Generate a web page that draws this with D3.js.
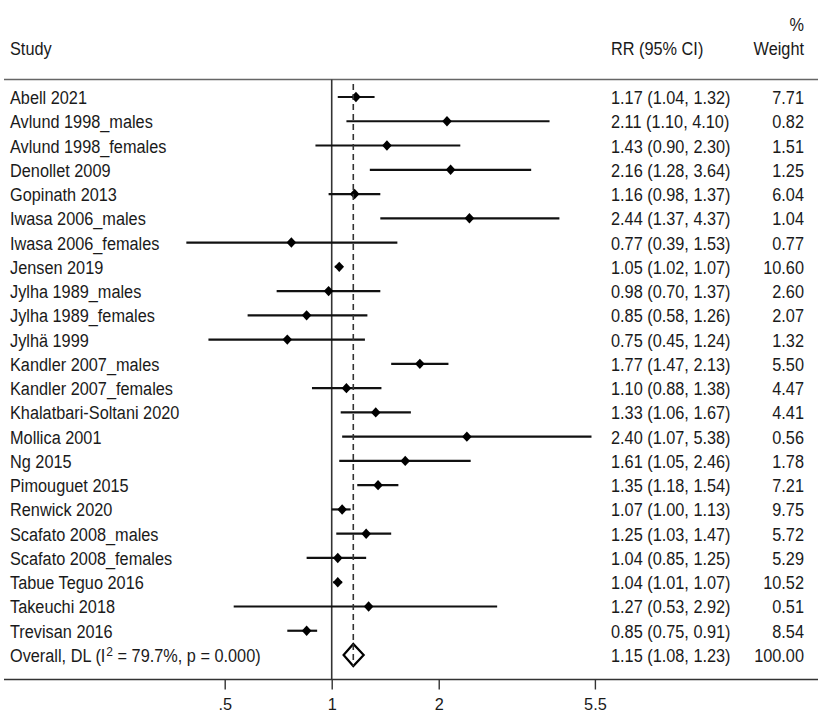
<!DOCTYPE html>
<html>
<head>
<meta charset="utf-8">
<script src="https://cdn.jsdelivr.net/npm/d3@7"></script>
<style>
  body { margin: 0; background: #fff; }
  text { font-family: "Liberation Sans", Arial, sans-serif; font-size: 16.3px; fill: #1a1a1a; }
</style>
</head>
<body>
<svg id="forest"></svg>
<script>
// study labels, point estimates, confidence bounds and weights
let studies = [
    "Abell 2021", "Avlund 1998_males", "Avlund 1998_females", "Denollet 2009",
    "Gopinath 2013", "Iwasa 2006_males", "Iwasa 2006_females", "Jensen 2019",
    "Jylha 1989_males", "Jylha 1989_females", "Jylhä 1999", "Kandler 2007_males",
    "Kandler 2007_females", "Khalatbari-Soltani 2020", "Mollica 2001", "Ng 2015",
    "Pimouguet 2015", "Renwick 2020", "Scafato 2008_males", "Scafato 2008_females",
    "Tabue Teguo 2016", "Takeuchi 2018", "Trevisan 2016"
];
let rr    = [1.17, 2.11, 1.43, 2.16, 1.16, 2.44, 0.77, 1.05, 0.98, 0.85, 0.75, 1.77,
             1.10, 1.33, 2.40, 1.61, 1.35, 1.07, 1.25, 1.04, 1.04, 1.27, 0.85];
let lower = [1.04, 1.10, 0.90, 1.28, 0.98, 1.37, 0.39, 1.02, 0.70, 0.58, 0.45, 1.47,
             0.88, 1.06, 1.07, 1.05, 1.18, 1.00, 1.03, 0.85, 1.01, 0.53, 0.75];
let upper = [1.32, 4.10, 2.30, 3.64, 1.37, 4.37, 1.53, 1.07, 1.37, 1.26, 1.24, 2.13,
             1.38, 1.67, 5.38, 2.46, 1.54, 1.13, 1.47, 1.25, 1.07, 2.92, 0.91];
let weights = [7.71, 0.82, 1.51, 1.25, 6.04, 1.04, 0.77, 10.60, 2.60, 2.07, 1.32, 5.50,
               4.47, 4.41, 0.56, 1.78, 7.21, 9.75, 5.72, 5.29, 10.52, 0.51, 8.54];
let overall = { label: "Overall", rr: 1.15, lower: 1.08, upper: 1.23, weight: 100.00, i2: 79.7, p: "0.000" };
let xTicks = [0.5, 1, 2, 5.5];
let xTickLabels = [".5", "1", "2", "5.5"];

let width = 825;
let height = 725;
let svg = d3.select("#forest").attr("width", width).attr("height", height);

let rows = studies.map((s, i) => ({ study: s, rr: rr[i], lower: lower[i], upper: upper[i], weight: weights[i] }));

let xScale = d3.scaleLog()
    .domain([0.5, 5.5])
    .range([224.7, 594.9]);
let yScale = d3.scalePoint()
    .domain(studies.concat([overall.label]))
    .range([97, 655]);

let fmt = d3.format(".2f");
let colRR = 611;
let colW = 804;
let axisY = 679.5;

// the Stata export has slightly tall glyphs, stretch text around its baseline
function stretch(sel) {
    sel.attr("transform", function () {
        let y = +d3.select(this).attr("y");
        return `translate(0,${y}) scale(1,1.08) translate(0,${-y})`;
    });
}

// header
svg.append("text").attr("x", 10).attr("y", 55).text("Study").call(stretch);
svg.append("text").attr("x", colRR).attr("y", 55).text("RR (95% CI)").call(stretch);
svg.append("text").attr("x", colW).attr("y", 31).attr("text-anchor", "end").text("%").call(stretch);
svg.append("text").attr("x", colW).attr("y", 55).attr("text-anchor", "end").text("Weight").call(stretch);
svg.append("line")
    .attr("x1", 4).attr("x2", 818).attr("y1", 79.5).attr("y2", 79.5)
    .attr("stroke", "#666").attr("stroke-width", 1.4);

// line of no effect
svg.append("line")
    .attr("x1", xScale(1)).attr("x2", xScale(1))
    .attr("y1", 79.5).attr("y2", axisY)
    .attr("stroke", "#333").attr("stroke-width", 1.6);

// study rows
let g = svg.append("g");
g.selectAll(".ci").data(rows).enter().append("line")
    .attr("x1", d => xScale(d.lower))
    .attr("x2", d => xScale(d.upper))
    .attr("y1", d => yScale(d.study))
    .attr("y2", d => yScale(d.study))
    .attr("stroke", "#111").attr("stroke-width", 2.2);
g.selectAll(".pt").data(rows).enter().append("path")
    .attr("d", d => {
        let cx = xScale(d.rr), cy = yScale(d.study);
        return `M${cx - 4.8},${cy}L${cx},${cy - 5.2}L${cx + 4.8},${cy}L${cx},${cy + 5.2}Z`;
    })
    .attr("fill", "#000");
g.selectAll(".lab").data(rows).enter().append("text")
    .attr("x", 10).attr("y", d => yScale(d.study) + 7)
    .text(d => d.study)
    .call(stretch);
g.selectAll(".est").data(rows).enter().append("text")
    .attr("x", colRR).attr("y", d => yScale(d.study) + 7)
    .text(d => `${fmt(d.rr)} (${fmt(d.lower)}, ${fmt(d.upper)})`)
    .call(stretch);
g.selectAll(".wt").data(rows).enter().append("text")
    .attr("x", colW).attr("y", d => yScale(d.study) + 7)
    .attr("text-anchor", "end")
    .text(d => fmt(d.weight))
    .call(stretch);

// overall row
let oy = yScale(overall.label);
let ox = xScale(overall.rr);
let ot = svg.append("text").attr("x", 10).attr("y", oy + 7);
ot.append("tspan").text("Overall, DL (I");
ot.append("tspan").attr("dx", 1).attr("dy", -6).style("font-size", "12px").text("2");
ot.append("tspan").attr("dy", 6).text(` = ${overall.i2}%, p = ${overall.p})`);
ot.call(stretch);
svg.append("text").attr("x", colRR).attr("y", oy + 7)
    .text(`${fmt(overall.rr)} (${fmt(overall.lower)}, ${fmt(overall.upper)})`)
    .call(stretch);
svg.append("text").attr("x", colW).attr("y", oy + 7).attr("text-anchor", "end")
    .text(fmt(overall.weight))
    .call(stretch);
svg.append("path")
    .attr("d", `M${xScale(overall.lower)},${oy}L${ox},${oy - 11}L${xScale(overall.upper)},${oy}L${ox},${oy + 11}Z`)
    .attr("fill", "#fff").attr("stroke", "#000").attr("stroke-width", 2.2)
    .attr("stroke-linejoin", "miter");

// overall estimate (dashed)
svg.append("line")
    .attr("x1", ox).attr("x2", ox)
    .attr("y1", 84).attr("y2", oy + 11)
    .attr("stroke", "#333").attr("stroke-width", 1.6)
    .attr("stroke-dasharray", "6,4");

// x axis
svg.append("line")
    .attr("x1", 4).attr("x2", 818).attr("y1", axisY).attr("y2", axisY)
    .attr("stroke", "#333").attr("stroke-width", 1.4);
let axis = svg.append("g")
    .attr("transform", `translate(0, ${axisY})`)
    .call(d3.axisBottom(xScale)
        .tickValues(xTicks)
        .tickFormat((d, i) => xTickLabels[i])
        .tickSize(10)
        .tickPadding(9));
axis.select(".domain").remove();
axis.selectAll(".tick line").attr("stroke", "#333").attr("stroke-width", 1.4);
axis.selectAll(".tick text")
    .style("font-family", "\"Liberation Sans\", Arial, sans-serif")
    .style("font-size", "16.3px")
    .attr("fill", "#1a1a1a");
</script>
</body>
</html>
